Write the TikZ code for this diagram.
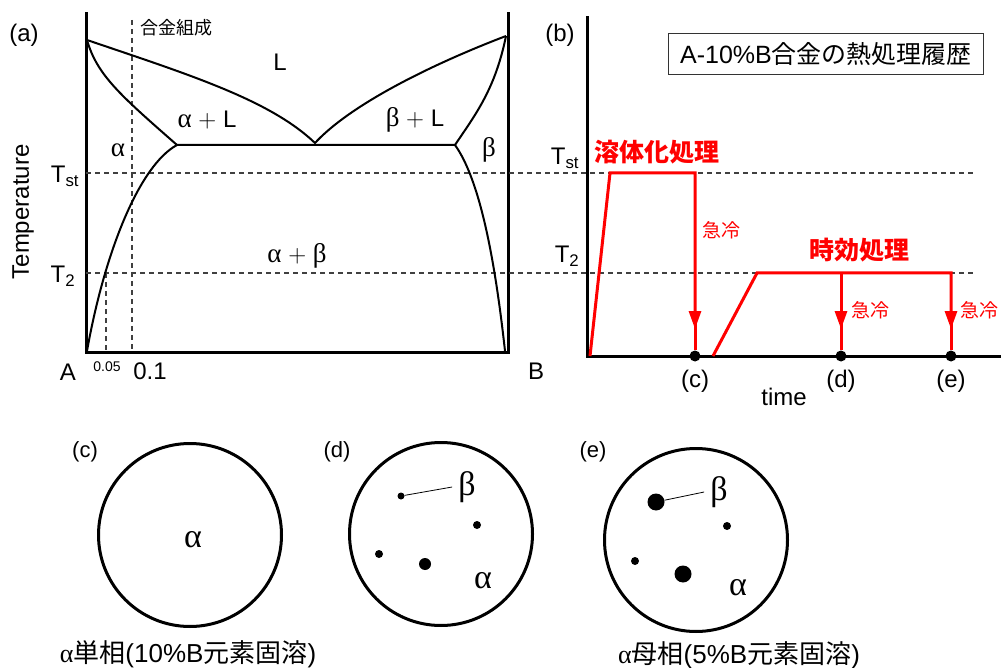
\documentclass[tikz,border=0pt]{standalone}
\usepackage{fontspec}
\setmainfont{Liberation Sans}
\newfontfamily\jp{Noto Sans CJK JP}
\newfontfamily\grk{Liberation Serif}
\usetikzlibrary{arrows.meta,positioning,calc}

\newcommand\fs[1]{\fontsize{#1}{#1}\selectfont}
\newcommand\ga{{\grk\fs{27}α}}
\newcommand\gb{{\grk\fs{27}β}}

\tikzset{
  axisline/.style={line width=3pt,line cap=rect},
  phase/.style={line width=2pt},
  guide/.style={dash pattern=on 5pt off 4pt,line width=1.1pt,black!75},
  redline/.style={red,line width=3pt},
  quench/.style={redline,-{Triangle[length=18pt,width=12pt]}},
  ptdot/.style={circle,fill=black,inner sep=0pt,minimum size=#1},
  grain/.style={circle,draw,line width=3pt,minimum size=183pt,inner sep=0pt},
  redjp/.style={text=red,font=\jp\bfseries\fs{25}},
  qlabel/.style={text=red,font=\jp\fs{19}},
}

\begin{document}
\begin{tikzpicture}[x=1pt,y=-1pt,font=\fs{24}]
  \useasboundingbox (0,0) rectangle (1001,668);

  % (a) 状態図の枠と補助線
  \draw[axisline] (86,14) -- (86,352) -- (508,352) -- (508,14);
  \draw[guide] (86,173) -- (975,173); % Tst
  \draw[guide] (86,273) -- (975,273); % T2
  \draw[guide] (132,20) -- (132,352); % 合金組成 0.1
  \draw[guide] (106,273) -- (106,352); % 0.05

  % 融点・共晶点
  \coordinate (mA) at (87,40);
  \coordinate (mB) at (506,36);
  \coordinate (eu) at (315,143);
  \coordinate (sa) at (177,145);
  \coordinate (sb) at (455,145);

  % 液相線
  \draw[phase] (mA) .. controls (190,75) and (270,100) .. (eu)
    .. controls (350,105) and (430,65) .. (mB);
  % 固相線と共晶線
  \draw[phase] (mA) .. controls (97,75) and (120,95) .. (sa) -- (sb)
    .. controls (475,115) and (495,90) .. (mB);
  % 固溶限
  \draw[phase] (sa) .. controls (140,165) and (105,250) .. (87,351);
  \draw[phase] (sb) .. controls (480,180) and (495,260) .. (505,351);

  \node (capA) at (24,35) {(a)};
  \node[font=\jp\fs{18}] (comp) at (176,28) {合金組成};
  \node (liq) at (280,62) {L};
  \node (alL) at (207,120) {\ga{} $+$ L};
  \node (beL) at (415,120) {\gb{} $+$ L};
  \node (alp) at (118,150) {\ga};
  \node (bet) at (489,150) {\gb};
  \node (alb) at (297,256) {\ga{} $+$ \gb};
  \node[rotate=90] (temp) at (23,212) {Temperature};
  \node (tst) at (65,176) {T\textsubscript{st}};
  \node (ttw) at (63,276) {T\textsubscript{2}};
  \node (endA) at (68,372) {A};
  \node[font=\fs{14}] (c005) at (107,367) {0.05};
  \node (c01) at (150,371) {0.1};
  \node (endB) at (536,371) {B};

  % (b) 熱処理履歴
  \draw[axisline] (587,18) -- (587,356) -- (1001,356);
  \node (capB) at (560,35) {(b)};
  \node[draw=black!80,line width=1.3pt,minimum width=315,minimum height=41,
    inner sep=0pt,font=\fs{25}] (title) at (826,54) {A-10\%B{\jp 合金の熱処理履歴}};
  \node (tst2) at (565,158) {T\textsubscript{st}};
  \node (ttw2) at (567,256) {T\textsubscript{2}};

  \node[ptdot=11pt] (dc) at (695,356) {};
  \node[ptdot=11pt] (dd) at (841,356) {};
  \node[ptdot=11pt] (de) at (951,356) {};

  % 溶体化処理 → 急冷
  \coordinate (s0) at (590,356);
  \coordinate (s1) at (610,173);
  \coordinate (s2) at (695,173);
  \coordinate (ac) at (695,329);
  \draw[quench] (s0) -- (s1) -- (s2) -- (ac);
  \draw[redline] (695,320) -- (dc);

  % 時効処理 → 急冷
  \coordinate (a0) at (713,356);
  \coordinate (a1) at (757,273);
  \coordinate (a2) at (841,273);
  \coordinate (a3) at (951,273);
  \coordinate (ad) at (841,329);
  \coordinate (ae) at (951,329);
  \draw[quench] (a0) -- (a1) -- (a3) -- (ae);
  \draw[redline] (951,320) -- (de);
  \draw[quench] (a2) -- (ad);
  \draw[redline] (841,320) -- (dd);

  \node[redjp] (solu) at (657,152) {溶体化処理};
  \node[redjp] (aging) at (859,250) {時効処理};
  \node[qlabel] (q1) at (721,230) {急冷};
  \node[qlabel] (q2) at (870,310) {急冷};
  \node[qlabel] (q3) at (979,310) {急冷};

  \node (tc) at (695,381) {(c)};
  \node (td) at (841,381) {(d)};
  \node (te) at (951,381) {(e)};
  \node (time) at (784,397) {time};

  % (c)(d)(e) 組織の模式図
  \node[grain] (gc) at (190,535) {};
  \node[grain] (gd) at (441,534) {};
  \node[grain] (ge) at (696,540) {};
  \node[font=\fs{22}] (lc) at (85,452) {(c)};
  \node[font=\fs{22}] (ld) at (337,452) {(d)};
  \node[font=\fs{22}] (le) at (593,452) {(e)};

  \node[font=\grk\fs{34}] (mc) at (193,540) {α};

  \node[ptdot=7pt] (pd1) at (401,496) {};
  \node[ptdot=8pt] (pd2) at (477,525) {};
  \node[ptdot=8pt] (pd3) at (379,554) {};
  \node[ptdot=12pt] (pd4) at (425,564) {};
  \node[font=\grk\fs{34},inner sep=6pt] (bd) at (467,487) {β};
  \node[font=\grk\fs{34}] (md) at (483,581) {α};
  \draw[line width=0.8pt] (pd1) -- (bd.west);

  \node[ptdot=17pt] (pe1) at (656,502) {};
  \node[ptdot=8pt] (pe2) at (727,526) {};
  \node[ptdot=8pt] (pe3) at (635,561) {};
  \node[ptdot=17pt] (pe4) at (683,574) {};
  \node[font=\grk\fs{34},inner sep=6pt] (be) at (719,492) {β};
  \node[font=\grk\fs{34}] (me) at (738,588) {α};
  \draw[line width=0.8pt] (pe1) -- (be.west);

  \node[font=\fs{26}] (capc) at (188,654) {{\grk α}{\jp 単相}(10\%B{\jp 元素固溶})};
  \node[font=\fs{26}] (cape) at (739,655) {{\grk α}{\jp 母相}(5\%B{\jp 元素固溶})};
\end{tikzpicture}
\end{document}
